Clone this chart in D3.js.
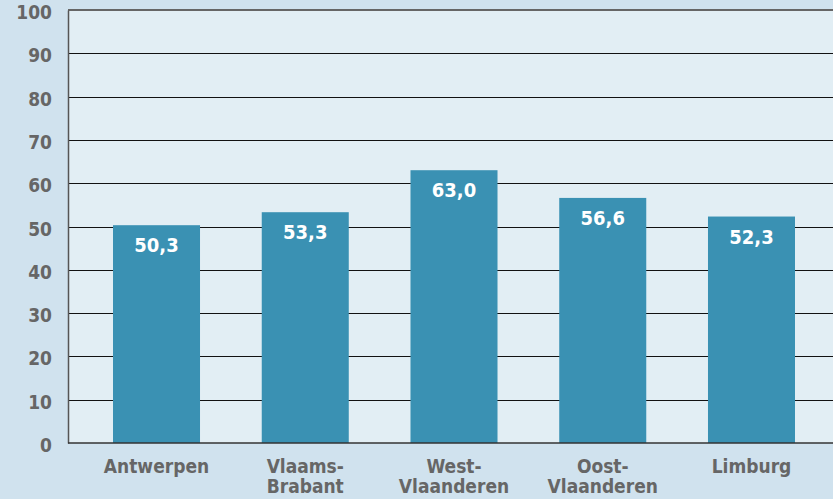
<!DOCTYPE html>
<html><head><meta charset="utf-8">
<script src="https://cdn.jsdelivr.net/npm/d3@7"></script>
<style>
html,body{margin:0;padding:0;background:#d0e2ee;}
svg{display:block;}
</style></head><body>
<svg id="c" width="833" height="499"></svg>
<script>
const categories = [["Antwerpen"],["Vlaams-","Brabant"],["West-","Vlaanderen"],["Oost-","Vlaanderen"],["Limburg"]];
const values = [50.3, 53.3, 63.0, 56.6, 52.3];
const yTicks = [0,10,20,30,40,50,60,70,80,90,100];

(function(){
const W=833,H=499;
const pL=68, pR=833, pT=10, pB=443;
const svg=d3.select("#c");
const font="'DejaVu Sans Condensed','DejaVu Sans',sans-serif";
svg.append("rect").attr("width",W).attr("height",H).attr("fill","#d0e2ee");
svg.append("rect").attr("x",pL).attr("y",pT).attr("width",pR-pL).attr("height",pB-pT).attr("fill","#e2eef4");

const y=d3.scaleLinear().domain([0,100]).range([pB,pT]);
const x=d3.scaleBand().domain(categories.map((d,i)=>i)).range([83.25,824.75]).paddingInner(0.415).paddingOuter(0.2);

svg.append("g").selectAll("line").data(yTicks.filter(t=>t>0&&t<100)).join("line")
  .attr("x1",pL).attr("x2",pR).attr("y1",d=>Math.round(y(d))+0.5).attr("y2",d=>Math.round(y(d))+0.5)
  .attr("stroke","#111").attr("stroke-width",1);
svg.append("line").attr("x1",pL).attr("x2",pR).attr("y1",y(100)).attr("y2",y(100)).attr("stroke","#666").attr("stroke-width",2);

const ya=svg.append("g").attr("transform",`translate(${pL},0)`).call(d3.axisLeft(y).tickValues(yTicks).tickSize(0).tickPadding(16));
ya.select(".domain").attr("stroke","#555").attr("stroke-width",1.5);
ya.selectAll("text").attr("font-family",font).attr("font-weight","bold").attr("font-size",19).attr("fill","#666").attr("dy","0.45em");

svg.append("g").selectAll("rect").data(values).join("rect")
  .attr("x",(d,i)=>x(i)).attr("width",x.bandwidth())
  .attr("y",d=>y(d)).attr("height",d=>pB-y(d)).attr("fill","#3a91b3");

svg.append("g").selectAll("text").data(values).join("text")
  .attr("x",(d,i)=>x(i)+x.bandwidth()/2).attr("y",d=>y(d)+27)
  .attr("text-anchor","middle").attr("font-family",font).attr("font-weight","bold")
  .attr("font-size",20).attr("fill","#fff")
  .text(d=>d.toFixed(1).replace(".",","));

svg.append("line").attr("x1",pL).attr("x2",pR).attr("y1",pB).attr("y2",pB).attr("stroke","#333").attr("stroke-width",1.5);

const cl=svg.append("g").selectAll("text").data(categories).join("text")
  .attr("x",(d,i)=>x(i)+x.bandwidth()/2).attr("y",473)
  .attr("text-anchor","middle").attr("font-family",font).attr("font-weight","bold")
  .attr("font-size",19).attr("fill","#666");
cl.each(function(d){
  const t=d3.select(this);
  d.forEach((line,j)=>t.append("tspan").attr("x",t.attr("x")).attr("dy",j?20:0).text(line));
});
})();
</script>
</body></html>
